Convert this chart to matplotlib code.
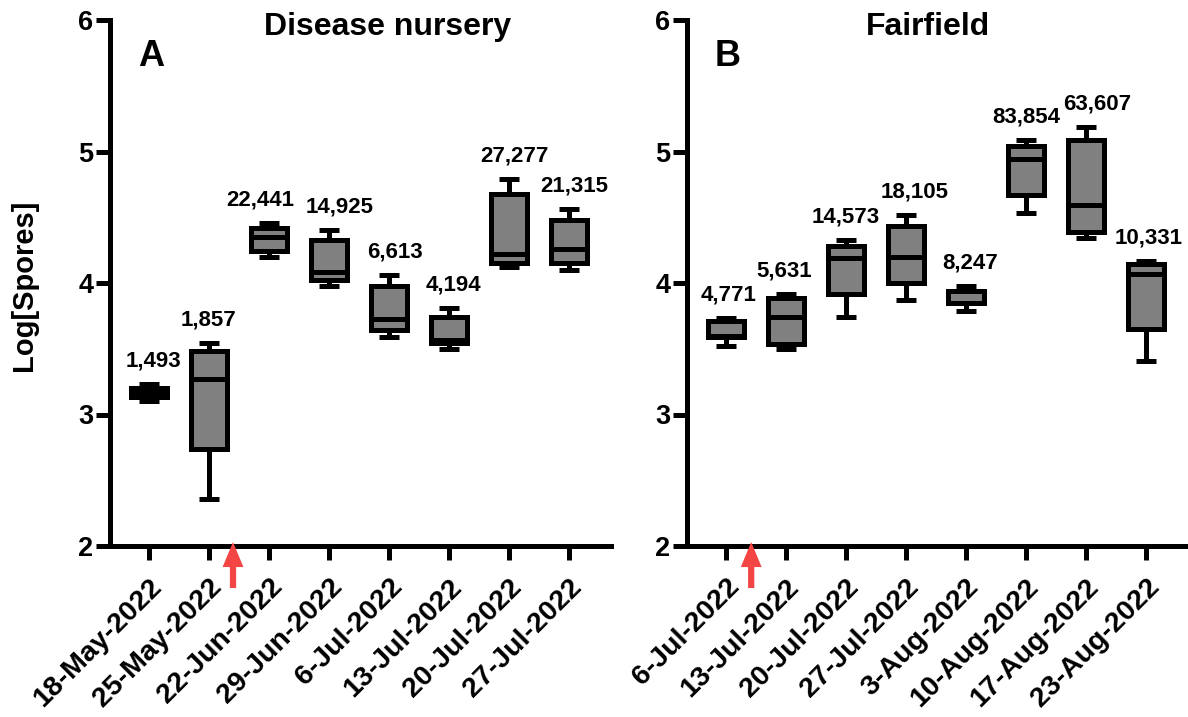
import matplotlib
matplotlib.use('Agg')
import matplotlib.pyplot as plt

plt.rcParams['font.family'] = ['Liberation Sans', 'DejaVu Sans']
plt.rcParams['font.weight'] = 'bold'

# ---- Panel A data (log10 spores) ----
a_dates = ['18-May-2022', '25-May-2022', '22-Jun-2022', '29-Jun-2022',
           '6-Jul-2022', '13-Jul-2022', '20-Jul-2022', '27-Jul-2022']
a_min = [3.10, 2.36, 4.20, 3.98, 3.59, 3.50, 4.12, 4.10]
a_q1 = [3.13, 2.74, 4.24, 4.02, 3.64, 3.54, 4.15, 4.15]
a_med = [3.165, 3.27, 4.35, 4.08, 3.73, 3.565, 4.22, 4.26]
a_q3 = [3.20, 3.485, 4.42, 4.33, 3.98, 3.745, 4.68, 4.48]
a_max = [3.23, 3.54, 4.46, 4.40, 4.06, 3.81, 4.79, 4.56]
a_means = ['1,493', '1,857', '22,441', '14,925', '6,613', '4,194', '27,277', '21,315']

# ---- Panel B data ----
b_dates = ['6-Jul-2022', '13-Jul-2022', '20-Jul-2022', '27-Jul-2022',
           '3-Aug-2022', '10-Aug-2022', '17-Aug-2022', '23-Aug-2022']
b_min = [3.52, 3.50, 3.74, 3.87, 3.79, 4.53, 4.345, 3.41]
b_q1 = [3.59, 3.535, 3.915, 4.00, 3.85, 4.67, 4.385, 3.65]
b_med = [3.60, 3.74, 4.19, 4.195, 3.94, 4.94, 4.59, 4.07]
b_q3 = [3.71, 3.885, 4.28, 4.435, 3.94, 5.045, 5.085, 4.145]
b_max = [3.735, 3.92, 4.33, 4.52, 3.975, 5.09, 5.185, 4.17]
b_means = ['4,771', '5,631', '14,573', '18,105', '8,247', '83,854', '63,607', '10,331']

# small horizontal nudges (points) for the value labels, as in the original
a_nudge = [3, 0, -6, 8, 4, 3, 4, 4]
b_nudge = [2, -1, 0, 6, 3, 0, 8, 2]

panels = [
    dict(dates=a_dates, mn=a_min, q1=a_q1, med=a_med, q3=a_q3, mx=a_max,
         means=a_means, nudge=a_nudge, title='Disease nursery', letter='A',
         arrow=1.4, rect=[110/1188, 171/717, 501/1188, 526/717], title_x=0.555),
    dict(dates=b_dates, mn=b_min, q1=b_q1, med=b_med, q3=b_q3, mx=b_max,
         means=b_means, nudge=b_nudge, title='Fairfield', letter='B',
         arrow=0.42, rect=[687/1188, 171/717, 501/1188, 526/717], title_x=0.481),
]

LW = 3.6
fig = plt.figure(figsize=(11.88, 7.17), dpi=100)

for p in panels:
    ax = fig.add_axes(p['rect'])
    stats = []
    for i in range(len(p['dates'])):
        stats.append(dict(whislo=p['mn'][i], q1=p['q1'][i], med=p['med'][i],
                          q3=p['q3'][i], whishi=p['mx'][i], fliers=[]))
    pos = list(range(len(stats)))
    ax.bxp(stats, positions=pos, widths=0.6, capwidths=0.33,
           patch_artist=True, showfliers=False,
           boxprops=dict(facecolor='#808080', edgecolor='black',
                         linewidth=LW, joinstyle='miter'),
           medianprops=dict(color='black', linewidth=LW, solid_capstyle='butt'),
           whiskerprops=dict(color='black', linewidth=LW),
           capprops=dict(color='black', linewidth=LW, solid_capstyle='butt'))

    for i, txt in enumerate(p['means']):
        ax.annotate(txt, xy=(pos[i], p['mx'][i]), xytext=(p['nudge'][i], 9),
                    textcoords='offset points', ha='center', va='bottom',
                    fontsize=16, fontweight='bold')

    ax.set_xlim(-0.65, 7.7)
    ax.set_ylim(2, 6)
    ax.set_yticks([2, 3, 4, 5, 6])
    ax.set_xticks(pos)
    ax.set_xticklabels(p['dates'], rotation=45, ha='right', va='top',
                       rotation_mode='anchor', fontsize=20.5)

    for s in ['top', 'right']:
        ax.spines[s].set_visible(False)
    for s in ['left', 'bottom']:
        ax.spines[s].set_linewidth(LW)
    ax.tick_params(axis='both', width=LW, length=10)
    ax.tick_params(axis='y', pad=2, labelsize=19.5)
    ax.tick_params(axis='x', pad=10)

    ax.text(p['title_x'], 0.971, p['title'], transform=ax.transAxes,
            ha='center', va='baseline', fontsize=23, fontweight='bold')
    ax.text(0.056, 0.913, p['letter'], transform=ax.transAxes,
            ha='left', va='baseline', fontsize=26, fontweight='bold')

    ax.annotate('', xy=(p['arrow'], 2.03), xycoords='data',
                xytext=(p['arrow'], -0.08), textcoords=('data', 'axes fraction'),
                arrowprops=dict(facecolor='#F44545', edgecolor='none',
                                width=4.5, headwidth=15, headlength=18, shrink=0),
                annotation_clip=False)

fig.text(24/1188, 0.5 + (717/2 - 285)/717, 'Log[Spores]', rotation=90,
         ha='center', va='center', fontsize=21, fontweight='bold')

fig.savefig('out.png', dpi=100)
